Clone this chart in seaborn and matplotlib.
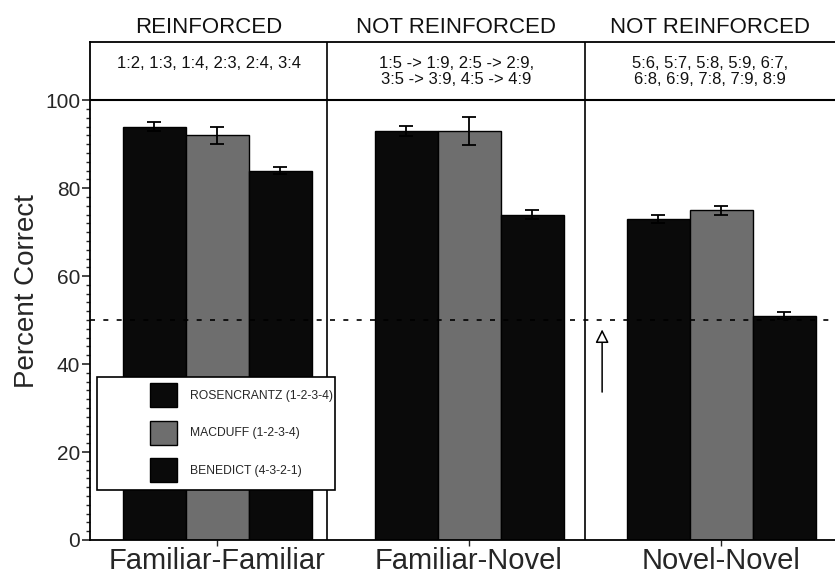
import pandas as pd
import matplotlib
matplotlib.use('Agg')
import matplotlib.pyplot as plt
import matplotlib.ticker as mticker
from matplotlib.patches import Rectangle
import seaborn as sns

# Дані
conditions = ['Familiar-Familiar', 'Familiar-Novel', 'Novel-Novel']
monkeys = ['ROSENCRANTZ (1-2-3-4)', 'MACDUFF (1-2-3-4)', 'BENEDICT (4-3-2-1)']
rosencrantz = [94, 93, 73]
macduff = [92, 93, 75]
benedict = [84, 74, 51]
rosencrantz_err = [1, 1.2, 1]
macduff_err = [2, 3.2, 1]
benedict_err = [0.8, 1, 0.8]

headers = ['REINFORCED', 'NOT REINFORCED', 'NOT REINFORCED']
pairs = ['1:2, 1:3, 1:4, 2:3, 2:4, 3:4',
         '1:5 -> 1:9, 2:5 -> 2:9,\n3:5 -> 3:9, 4:5 -> 4:9',
         '5:6, 5:7, 5:8, 5:9, 6:7,\n6:8, 6:9, 7:8, 7:9, 8:9']
chance = 50

df = pd.DataFrame({
    'Condition': conditions * 3,
    'Monkey': [m for m in monkeys for _ in conditions],
    'Percent': rosencrantz + macduff + benedict,
})
errs = [rosencrantz_err, macduff_err, benedict_err]

sns.set_style('ticks')
plt.rcParams['font.family'] = ['Liberation Sans', 'DejaVu Sans']

fig = plt.figure(figsize=(8.35, 5.79), dpi=100)
ax = fig.add_axes([0.1078, 0.0674, 0.8922, 0.8606])

colors = ['#0a0a0a', '#6e6e6e', '#0a0a0a']
sns.barplot(data=df, x='Condition', y='Percent', hue='Monkey', order=conditions,
            hue_order=monkeys, palette=colors, width=0.75, saturation=1,
            edgecolor='black', linewidth=1, errorbar=None, legend=False, ax=ax, zorder=2)

# Похибки
for cont, err in zip(ax.containers, errs):
    xs = [b.get_x() + b.get_width() / 2 for b in cont]
    ys = [b.get_height() for b in cont]
    ax.errorbar(xs, ys, yerr=err, fmt='none', ecolor='black', elinewidth=1.3,
                capsize=5, capthick=1.3, zorder=3)

xmin, xmax = -0.504, 2.452
ymax = 113.3
ax.set_xlim(xmin, xmax)
ax.set_ylim(0, ymax)

# Розділювачі та лінії
seps = [0.437, 1.46]
for s in seps:
    ax.axvline(s, color='black', lw=1.2, zorder=1)
ax.axhline(100, color='black', lw=1.5, zorder=4)
ax.axhline(chance, color='black', lw=1.2, ls=(0, (3, 5)), zorder=2.5)

bounds = [xmin] + seps + [xmax]
for i in range(3):
    mid = (bounds[i] + bounds[i + 1]) / 2
    ax.text(mid, 116.6, headers[i], ha='center', va='center', fontsize=16,
            color='#111111', clip_on=False)
    ax.text(mid, 110.0, pairs[i], ha='center', va='top', fontsize=12,
            color='#111111', linespacing=1.1)

# Стрілка до рівня випадковості
ax.annotate('', xy=(1.528, 48.5), xytext=(1.528, 33),
            arrowprops=dict(arrowstyle='-|>', fc='white', ec='black', lw=1.1,
                            mutation_scale=20), zorder=5)

# Легенда
ax.add_patch(Rectangle((-0.476, 11.4), 0.944, 25.6, facecolor='white',
                       edgecolor='black', lw=1.2, zorder=6))
handles = [Rectangle((0, 0), 1, 1, facecolor=c, edgecolor='black', lw=1) for c in colors]
leg = ax.legend(handles, monkeys, loc='upper left', bbox_to_anchor=(0.0757, 0.322),
                frameon=False, fontsize=8.7, handlelength=2.25, handleheight=2.65,
                labelspacing=1.15, handletextpad=1.07, borderpad=0.3, borderaxespad=0)
leg.set_zorder(7)

# Осі
ax.set_xlabel('')
ax.set_ylabel('Percent Correct', fontsize=20, labelpad=4)
ax.set_yticks(range(0, 101, 20))
ax.yaxis.set_minor_locator(mticker.FixedLocator(range(0, 101, 2)))
ax.tick_params(axis='y', which='major', labelsize=15, length=6, width=1.2, direction='out', pad=1)
ax.tick_params(axis='y', which='minor', length=3, width=1, direction='out')
ax.tick_params(axis='x', labelsize=21, length=4, width=1, direction='out', pad=1)
for sp in ['left', 'bottom', 'top']:
    ax.spines[sp].set_linewidth(1.3)
    ax.spines[sp].set_color('black')
ax.spines['right'].set_visible(False)

plt.savefig('out.png', dpi=100)
